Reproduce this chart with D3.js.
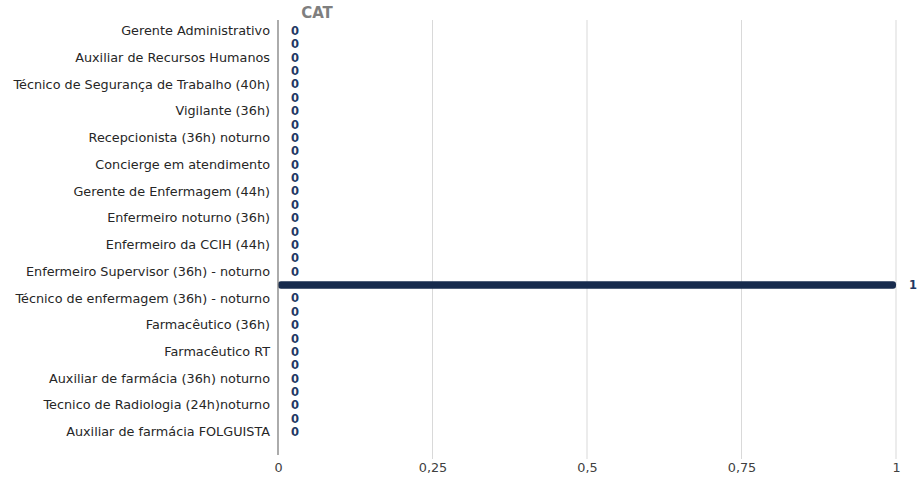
<!DOCTYPE html>
<html>
<head>
<meta charset="utf-8">
<script src="https://cdn.jsdelivr.net/npm/d3@7"></script>
<style>
  html, body { margin: 0; padding: 0; background: #ffffff; }
  svg { display: block; }
</style>
</head>
<body>
<svg id="chart" width="919" height="479"></svg>
<script>
// Job roles, top to bottom (every other row carries a visible label)
const categories = [
  "Gerente Administrativo", "",
  "Auxiliar de Recursos Humanos", "",
  "Técnico de Segurança de Trabalho (40h)", "",
  "Vigilante (36h)", "",
  "Recepcionista (36h) noturno", "",
  "Concierge em atendimento", "",
  "Gerente de Enfermagem (44h)", "",
  "Enfermeiro noturno (36h)", "",
  "Enfermeiro da CCIH (44h)", "",
  "Enfermeiro Supervisor (36h) - noturno", "",
  "Técnico de enfermagem (36h) - noturno", "",
  "Farmacêutico (36h)", "",
  "Farmacêutico RT", "",
  "Auxiliar de farmácia (36h) noturno", "",
  "Tecnico de Radiologia (24h)noturno", "",
  "Auxiliar de farmácia FOLGUISTA"
];

// CAT count per role
const values = [
  0, 0, 0, 0, 0, 0, 0, 0, 0, 0,
  0, 0, 0, 0, 0, 0, 0, 0, 0, 1,
  0, 0, 0, 0, 0, 0, 0, 0, 0, 0,
  0
];

const xTicks = [0, 0.25, 0.5, 0.75, 1];
const xTickLabels = ["0", "0,25", "0,5", "0,75", "1"];
const title = "CAT";

const svg = d3.select("#chart");
const plotLeft = 278, plotRight = 896, plotTop = 20, plotBottom = 455;

const x = d3.scaleLinear().domain([0, 1]).range([plotLeft, plotRight]);
const y = d3.scaleBand()
  .domain(d3.range(categories.length))
  .range([24.3, 438.8])
  .paddingInner(0.43)
  .paddingOuter(0.215);

// vertical gridlines
svg.append("g")
  .selectAll("line")
  .data(xTicks.filter(t => t > 0))
  .join("line")
  .attr("x1", d => x(d)).attr("x2", d => x(d))
  .attr("y1", plotTop).attr("y2", plotBottom + 4)
  .attr("stroke", "#d9d9d9")
  .attr("stroke-width", 1);

// x axis tick labels
const xAxis = d3.axisBottom(x)
  .tickValues(xTicks)
  .tickFormat((d, i) => xTickLabels[i])
  .tickSize(0)
  .tickPadding(0);
const gx = svg.append("g")
  .attr("transform", `translate(0, 463)`)
  .call(xAxis);
gx.select(".domain").remove();
gx.selectAll("text")
  .attr("font-family", "DejaVu Sans, Verdana, sans-serif")
  .attr("font-size", 12.8)
  .attr("fill", "#404040");

// bars
svg.append("g")
  .selectAll("rect")
  .data(values)
  .join("rect")
  .attr("x", x(0))
  .attr("y", (d, i) => y(i))
  .attr("width", d => Math.max(0, x(d) - x(0)))
  .attr("height", y.bandwidth())
  .attr("rx", d => d > 0 ? 3 : 0)
  .attr("fill", "#172b4d");

// y axis with labels
const yAxis = d3.axisLeft(y)
  .tickFormat(i => categories[i])
  .tickSize(0)
  .tickPadding(8);
const gy = svg.append("g")
  .attr("transform", `translate(${plotLeft}, 0)`)
  .call(yAxis);
gy.select(".domain").remove();
gy.selectAll("text")
  .attr("font-family", "DejaVu Sans, Verdana, sans-serif")
  .attr("font-size", 12.8)
  .attr("fill", "#262626");

svg.append("line")
  .attr("x1", plotLeft).attr("x2", plotLeft)
  .attr("y1", plotTop).attr("y2", plotBottom)
  .attr("stroke", "#7f7f7f")
  .attr("stroke-width", 1.3);

// value labels
svg.append("g")
  .selectAll("text")
  .data(values)
  .join("text")
  .attr("x", d => x(d) + 13)
  .attr("y", (d, i) => y(i) + y.bandwidth() / 2)
  .attr("dy", "0.35em")
  .attr("font-family", "DejaVu Sans, Verdana, sans-serif")
  .attr("font-size", 11.5)
  .attr("font-weight", "bold")
  .attr("fill", "#1f3864")
  .text(d => d);

// title
svg.append("text")
  .attr("x", 317)
  .attr("y", 18)
  .attr("text-anchor", "middle")
  .attr("font-family", "DejaVu Sans, Verdana, sans-serif")
  .attr("font-size", 15)
  .attr("font-weight", "bold")
  .attr("fill", "#7f7f7f")
  .text(title);
</script>
</body>
</html>
